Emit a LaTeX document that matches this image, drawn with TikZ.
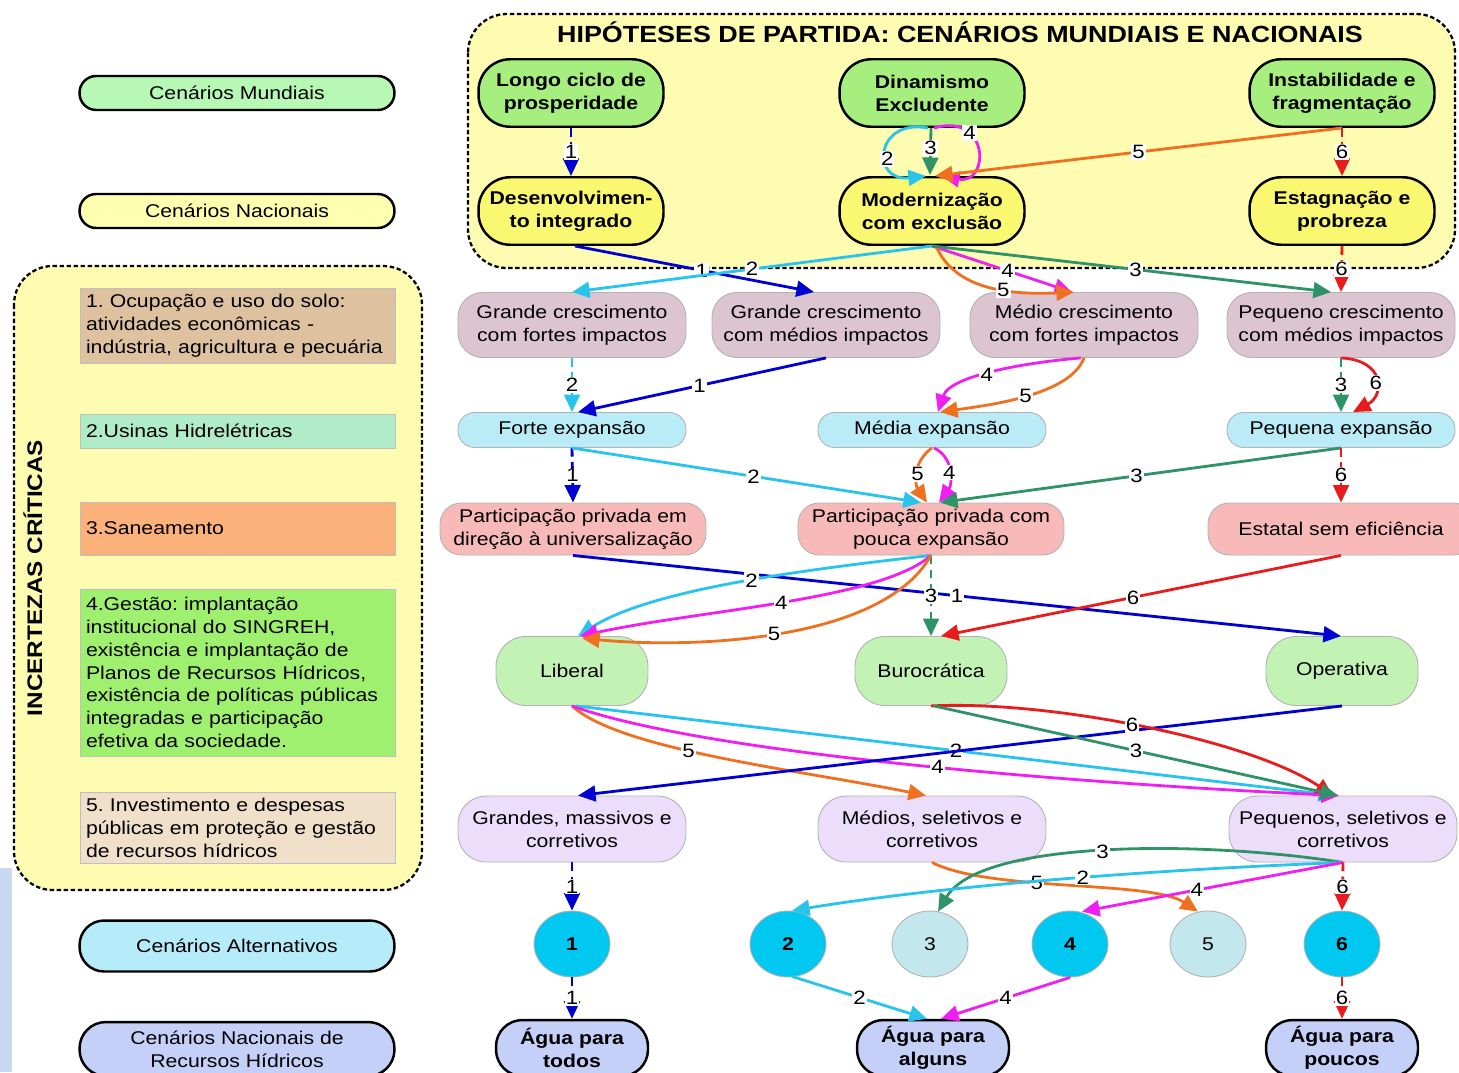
\documentclass[tikz,border=0pt]{standalone}
\usepackage{fontspec}
\setmainfont{Liberation Sans}[FakeStretch=1.15]
\usetikzlibrary{arrows.meta,calc,shapes.geometric}
\newcommand\myfs{\fontsize{10.5}{13}\selectfont}
\definecolor{hypY}{RGB}{253,252,176}
\definecolor{topG}{RGB}{166,238,126}
\definecolor{topY}{RGB}{250,248,112}
\definecolor{lmG}{RGB}{182,248,180}
\definecolor{lnY}{RGB}{255,255,176}
\definecolor{mauve}{RGB}{220,196,208}
\definecolor{lcyan}{RGB}{186,236,248}
\definecolor{salmon}{RGB}{248,186,184}
\definecolor{lgreen}{RGB}{194,242,180}
\definecolor{lav}{RGB}{236,222,250}
\definecolor{dcyan}{RGB}{0,200,240}
\definecolor{pcyan}{RGB}{194,232,238}
\definecolor{agua}{RGB}{196,208,248}
\definecolor{bxA}{RGB}{222,194,160}
\definecolor{bxB}{RGB}{176,236,200}
\definecolor{bxC}{RGB}{252,176,122}
\definecolor{bxD}{RGB}{160,240,112}
\definecolor{bxE}{RGB}{240,224,202}
\definecolor{laC}{RGB}{182,236,250}
\definecolor{strip}{RGB}{200,216,240}
\definecolor{k1}{RGB}{0,0,210}
\definecolor{k2}{RGB}{40,196,236}
\definecolor{k3}{RGB}{48,146,104}
\definecolor{k4}{RGB}{240,30,240}
\definecolor{k5}{RGB}{240,112,32}
\definecolor{k6}{RGB}{232,28,28}
\frenchspacing
\begin{document}
\begin{tikzpicture}[x=0.02cm,y=-0.02cm,
  tn/.style={draw=black, line width=1.4pt, rounded corners=18pt, font=\bfseries\myfs, align=center, inner sep=1pt, minimum width=3.7cm, minimum height=1.35cm},
  hl/.style={draw=black, line width=1.4pt, font=\myfs, align=center, inner sep=1pt, minimum width=6.3cm},
  pl/.style={draw=gray!60, line width=0.5pt, font=\myfs, align=center, inner sep=1pt},
  r3/.style={pl, fill=mauve, rounded corners=14pt, minimum width=4.56cm, minimum height=1.30cm},
  r4/.style={pl, fill=lcyan, rounded corners=9.5pt, minimum width=4.56cm, minimum height=0.70cm},
  r5/.style={pl, fill=salmon, rounded corners=12pt, minimum width=5.32cm, minimum height=1.04cm},
  r6/.style={pl, fill=lgreen, rounded corners=17pt, minimum width=3.04cm, minimum height=1.38cm},
  r7/.style={pl, fill=lav, rounded corners=16pt, minimum width=4.56cm, minimum height=1.32cm},
  cd/.style={pl, ellipse, fill=dcyan, minimum width=1.52cm, minimum height=1.32cm, font=\bfseries\myfs},
  cl/.style={pl, ellipse, fill=pcyan, minimum width=1.52cm, minimum height=1.32cm},
  r9/.style={draw=black, line width=1.4pt, fill=agua, rounded corners=15pt, font=\bfseries\myfs, align=center, inner sep=1pt, minimum width=3.04cm, minimum height=1.12cm},
  lbox/.style={draw=gray!50, line width=0.5pt, font=\myfs, align=left, text width=6.06cm, inner sep=0.12cm, minimum height=#1},
  dbox/.style={draw=black, line width=1.3pt, dash pattern=on 2.5pt off 1.5pt, fill=hypY, rounded corners=22pt},
  ed/.style={line width=1.6pt, -{Triangle[length=10pt,width=9pt]}},
  e1/.style={ed, draw=k1}, e2/.style={ed, draw=k2}, e3/.style={ed, draw=k3},
  e4/.style={ed, draw=k4}, e5/.style={ed, draw=k5}, e6/.style={ed, draw=k6},
  dsh/.style={dash pattern=on 5pt off 3pt},
  lb/.style={fill=white, inner sep=0.6pt, font=\fontsize{11}{11}\selectfont, text=black, pos=0.5}
]
\useasboundingbox (0,0) rectangle (1459,1072);
\fill[strip] (0,868) rectangle (12,1072);
% frames
\draw[dbox] (468,14) rectangle (1455,268);
\draw[dbox] (14,266) rectangle (422,890);
\node[font=\bfseries\fontsize{13.3}{15}\selectfont] (title) at (960,32) {HIPÓTESES DE PARTIDA: CENÁRIOS MUNDIAIS E NACIONAIS};
\node[rotate=90, font=\bfseries\fontsize{12}{14}\selectfont] (inct) at (33,578) {INCERTEZAS CRÍTICAS};
% left column
\node[hl, fill=lmG, rounded corners=9.5pt, minimum height=0.68cm] (lm) at (237,93) {Cenários Mundiais};
\node[hl, fill=lnY, rounded corners=9.5pt, minimum height=0.68cm] (ln) at (237,211) {Cenários Nacionais};
\node[lbox=1.36cm, fill=bxA] (b1) at (237.5,326) {1. Ocupação e uso do solo:\\atividades econômicas -\\indústria, agricultura e pecuária};
\node[lbox=0.68cm, fill=bxB] (b2) at (237.5,431) {2.Usinas Hidrelétricas};
\node[lbox=1.06cm, fill=bxC] (b3) at (237.5,528.5) {3.Saneamento};
\node[lbox=3.34cm, fill=bxD] (b4) at (237.5,672.5) {4.Gestão: implantação\\institucional do SINGREH,\\existência e implantação de\\Planos de Recursos Hídricos,\\existência de políticas públicas\\integradas e participação\\efetiva da sociedade.};
\node[lbox=1.36cm, fill=bxE] (b5) at (237.5,828) {5. Investimento e despesas\\públicas em proteção e gestão\\de recursos hídricos};
\node[hl, fill=laC, rounded corners=14pt, minimum height=1.02cm] (la) at (237,946) {Cenários Alternativos};
\node[hl, fill=agua, rounded corners=15pt, minimum height=1.08cm] (lr) at (237,1049) {Cenários Nacionais de\\Recursos Hídricos};
% top scenarios
\node[tn, fill=topG] (lcp) at (571,93) {Longo ciclo de\\prosperidade};
\node[tn, fill=topG] (din) at (932,93) {Dinamismo\\Excludente};
\node[tn, fill=topG] (ins) at (1342,93) {Instabilidade e\\fragmentação};
\node[tn, fill=topY] (dev) at (571,211) {Desenvolvimen-\\to integrado};
\node[tn, fill=topY] (mod) at (932,211) {Modernização\\com exclusão};
\node[tn, fill=topY] (est) at (1342,211) {Estagnação e\\probreza};
% row 3
\node[r3] (gf) at (572,325) {Grande crescimento\\com fortes impactos};
\node[r3] (gm) at (826,325) {Grande crescimento\\com médios impactos};
\node[r3] (mf) at (1084,325) {Médio crescimento\\com fortes impactos};
\node[r3] (pm) at (1341,325) {Pequeno crescimento\\com médios impactos};
% row 4
\node[r4] (fe) at (572,430) {Forte expansão};
\node[r4] (me) at (932,430) {Média expansão};
\node[r4] (pe) at (1341,430) {Pequena expansão};
% row 5
\node[r5] (pu) at (573,529) {Participação privada em\\direção à universalização};
\node[r5] (pp) at (931,529) {Participação privada com\\pouca expansão};
\node[r5] (es) at (1341,529) {Estatal sem eficiência};
% row 6
\node[r6] (lib) at (572,671) {Liberal};
\node[r6] (bur) at (931,671) {Burocrática};
\node[r6] (ope) at (1342,671) {Operativa};
% row 7
\node[r7] (gmc) at (572,829) {Grandes, massivos e\\corretivos};
\node[r7] (msc) at (932,829) {Médios, seletivos e\\corretivos};
\node[r7] (psc) at (1343,829) {Pequenos, seletivos e\\corretivos};
% row 8
\node[cd] (s1) at (572,944) {1};
\node[cd] (s2) at (788,944) {2};
\node[cl] (s3) at (930,944) {3};
\node[cd] (s4) at (1070,944) {4};
\node[cl] (s5) at (1208,944) {5};
\node[cd] (s6) at (1342,944) {6};
% row 9
\node[r9] (at) at (572,1048) {Água para\\todos};
\node[r9] (aa) at (933,1048) {Água para\\alguns};
\node[r9] (ap) at (1342,1048) {Água para\\poucos};
% ---- connectors: world -> national
\draw[e1,dsh] (lcp.south) -- (dev.north) node[lb]{1};
\draw[e2] ($(din.south)+(-4,0)$) .. controls (875,118) and (870,182) .. ($(mod.north)+(-6,0)$) node[lb,pos=.6]{2};
\draw[e3] ($(din.south)+(-1,0)$) -- ($(mod.north)+(-2,-1)$) node[lb,pos=.42]{3};
\draw[e4] ($(din.south)+(2,0)$) .. controls (990,112) and (990,185) .. ($(mod.north)+(10,0)$) node[lb,pos=.3]{4};
\draw[e5] (ins.south) -- ($(mod.north)+(3,0)$) node[lb]{5};
\draw[e6,dsh] (ins.south) -- (est.north) node[lb]{6};
% national -> land use
\draw[e1] ($(dev.south)+(4,0)$) -- ($(gm.north)+(-12,0)$) node[lb,pos=.53]{1};
\draw[e2] (mod.south) -- (gf.north) node[lb]{2};
\draw[e4] (mod.south) -- ($(mf.north)+(-12,0)$) node[lb,pos=.54]{4};
\draw[e5] ($(mod.south)+(4,0)$) .. controls (955,290) and (1010,295) .. ($(mf.north)+(-10,0)$) node[lb,pos=.6]{5};
\draw[e3] (mod.south) -- ($(pm.north)+(-10,0)$) node[lb,pos=.51]{3};
\draw[e6,dsh] (est.south) -- (pm.north) node[lb]{6};
% land use -> hydro
\draw[e2,dsh] (gf.south) -- (fe.north) node[lb]{2};
\draw[e1] (gm.south) -- ($(fe.north)+(6,0)$) node[lb,pos=.51]{1};
\draw[e4] ($(mf.south)+(-3,0)$) .. controls (1030,362) and (950,375) .. ($(me.north)+(6,0)$) node[lb,pos=.55]{4};
\draw[e5] (mf.south) .. controls (1070,395) and (990,405) .. ($(me.north)+(8,0)$) node[lb]{5};
\draw[e3,dsh] (pm.south) -- (pe.north) node[lb]{3};
\draw[e6] (pm.south) .. controls (1385,360) and (1385,395) .. ($(pe.north)+(12,0)$) node[lb,pos=.55]{6};
% hydro -> sanitation
\draw[e1,dsh] (fe.south) -- (pu.north) node[lb]{1};
\draw[e2] (fe.south) -- ($(pp.north)+(-10,0)$) node[lb,pos=.52]{2};
\draw[e5] (me.south) .. controls (912,462) and (915,485) .. ($(pp.north)+(-4,0)$) node[lb]{5};
\draw[e4] ($(me.south)+(2,0)$) .. controls (955,458) and (952,485) .. ($(pp.north)+(8,0)$) node[lb]{4};
\draw[e3] (pe.south) -- ($(pp.north)+(9,0)$) node[lb,pos=.51]{3};
\draw[e6,dsh] (pe.south) -- (es.north) node[lb]{6};
% sanitation -> management
\draw[e1] (pu.south) -- ($(ope.north)+(-1,0)$) node[lb]{1};
\draw[e3,dsh] (pp.south) -- (bur.north) node[lb,pos=.5]{3};
\draw[e2] (pp.south) .. controls (800,570) and (650,590) .. ($(lib.north)+(6,0)$) node[lb,pos=.45]{2};
\draw[e4] (pp.south) .. controls (880,600) and (700,610) .. ($(lib.north)+(8,0)$) node[lb]{4};
\draw[e5] (pp.south) .. controls (880,645) and (680,648) .. ($(lib.north)+(10,2)$) node[lb]{5};
\draw[e6] (es.south) -- ($(bur.north)+(10,0)$) node[lb,pos=.52]{6};
% management -> investment
\draw[e5] (lib.south) .. controls (620,750) and (800,770) .. ($(msc.north)+(-6,0)$) node[lb,pos=.42]{5};
\draw[e2] ($(lib.south)+(4,0)$) -- ($(psc.north)+(-7,0)$) node[lb]{2};
\draw[e4] (lib.south) .. controls (700,752) and (1050,782) .. ($(psc.north)+(-4,0)$) node[lb,pos=.55]{4};
\draw[e1] (ope.south) -- ($(gmc.north)+(6,0)$);
\draw[e6] (bur.south) .. controls (1050,700) and (1250,740) .. ($(psc.north)+(-10,0)$) node[lb,pos=.47]{6};
\draw[e3] ($(bur.south)+(3,0)$) -- ($(psc.north)+(-5,0)$) node[lb]{3};
% investment -> alternative scenarios
\draw[e1,dsh] (gmc.south) -- (s1.north) node[lb]{1};
\draw[e5] (msc.south) .. controls (990,892) and (1150,880) .. ($(s5.north)+(-10,1)$) node[lb,pos=.4]{5};
\draw[e3] (psc.south) .. controls (1200,840) and (980,840) .. ($(s3.north)+(8,1)$) node[lb]{3};
\draw[e2] (psc.south) .. controls (1150,870) and (950,885) .. ($(s2.north)+(4,0)$) node[lb,pos=.45]{2};
\draw[e4] (psc.south) -- ($(s4.north)+(12,1)$) node[lb,pos=.56]{4};
\draw[e6,dsh] (psc.south) -- (s6.north) node[lb]{6};
% alternative -> water scenarios
\draw[e1,dsh] (s1.south) -- (at.north) node[lb]{1};
\draw[e2] ($(s2.south)+(4,-1)$) -- ($(aa.north)+(-6,0)$) node[lb]{2};
\draw[e4] (s4.south) -- ($(aa.north)+(8,0)$) node[lb]{4};
\draw[e6,dsh] (s6.south) -- (ap.north) node[lb]{6};
\end{tikzpicture}
\end{document}
